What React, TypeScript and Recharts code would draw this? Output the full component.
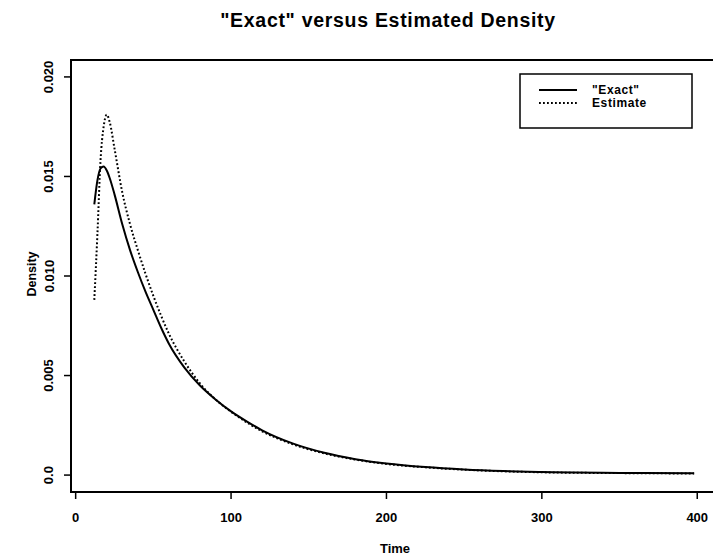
import { LineChart, Line, XAxis, YAxis, ReferenceArea } from 'recharts';

// Werte
const times = [12, 14, 16, 18, 20, 22, 25, 30, 35, 40, 45, 50, 55, 60, 70, 80, 90, 100, 110, 120, 140, 160, 180, 200, 225, 250, 275, 300, 350, 398];
const exactDensity = [0.0136, 0.0148, 0.0154, 0.0155, 0.0153, 0.0149, 0.0141, 0.0126, 0.0113, 0.0102, 0.0092, 0.0083, 0.0074, 0.0066, 0.0054, 0.0045, 0.0038, 0.0032, 0.0027, 0.00225, 0.00158, 0.00112, 0.0008, 0.00058, 0.0004, 0.00028, 0.0002, 0.00015, 0.00011, 0.00009];
const estimateDensity = [0.0088, 0.0121, 0.0158, 0.0175, 0.0181, 0.0177, 0.0164, 0.0142, 0.0126, 0.0113, 0.0101, 0.009, 0.008, 0.0071, 0.0057, 0.0046, 0.0038, 0.00318, 0.00265, 0.0022, 0.00154, 0.00109, 0.00078, 0.00056, 0.00039, 0.00027, 0.00019, 0.00014, 0.0001, 0.00008];

const xTicks = [0, 100, 200, 300, 400];
const yTicks = [0, 0.005, 0.01, 0.015, 0.02];
const yTickLabels = ['0.0', '0.005', '0.010', '0.015', '0.020'];
const seriesNames = ['"Exact"', 'Estimate'];

const data = times.map((t, i) => ({ t, exact: exactDensity[i], estimate: estimateDensity[i] }));

const FONT = '"Liberation Sans", Arial, Helvetica, sans-serif';
const X_DOMAIN = [-3, 414];
const Y_DOMAIN = [-0.00085, 0.02085];

const YTick = ({ x, y, payload }: any) => {
  const i = yTicks.indexOf(payload.value);
  return (
    <text
      x={x - 13}
      y={y}
      transform={`rotate(-90, ${x - 13}, ${y})`}
      textAnchor="middle"
      dominantBaseline="central"
      fontFamily={FONT}
      fontWeight="bold"
      fontSize={13}
      fill="#000"
    >
      {i >= 0 ? yTickLabels[i] : payload.value}
    </text>
  );
};

export default function App() {
  return (
    <div style={{ position: 'absolute', left: 0, top: 0, width: 713, height: 559, overflow: 'hidden', background: '#fff' }}>
      <LineChart width={719} height={559} data={data} margin={{ top: 60, right: 0, bottom: 0, left: 0 }}>
        <XAxis
          type="number"
          dataKey="t"
          domain={X_DOMAIN}
          ticks={xTicks}
          height={67}
          tickSize={7}
          tickMargin={14}
          axisLine={false}
          tickLine={{ stroke: '#000', strokeWidth: 1.5 }}
          tick={{ fill: '#000', fontSize: 13, fontWeight: 'bold', fontFamily: FONT }}
          allowDataOverflow
        />
        <YAxis
          type="number"
          domain={Y_DOMAIN}
          ticks={yTicks}
          width={71}
          tickSize={7}
          axisLine={false}
          tickLine={{ stroke: '#000', strokeWidth: 1.5 }}
          tick={<YTick />}
          allowDataOverflow
        />
        <ReferenceArea
          x1={X_DOMAIN[0]}
          x2={X_DOMAIN[1]}
          y1={Y_DOMAIN[0]}
          y2={Y_DOMAIN[1]}
          fill="none"
          stroke="#000"
          strokeWidth={2}
          fillOpacity={0}
        />
        <Line type="monotone" dataKey="exact" name={seriesNames[0]} stroke="#000" strokeWidth={2} dot={false} isAnimationActive={false} />
        <Line type="monotone" dataKey="estimate" name={seriesNames[1]} stroke="#000" strokeWidth={2} strokeDasharray="1.8 2.2" dot={false} isAnimationActive={false} />
      </LineChart>

      {/* Titel, Achsentitel und Legende */}
      <svg width={713} height={559} style={{ position: 'absolute', left: 0, top: 0, pointerEvents: 'none' }}>
        <text x={388} y={27} textAnchor="middle" fontFamily={FONT} fontWeight="bold" fontSize={19.5} letterSpacing={0.7} fill="#000">
          "Exact" versus Estimated Density
        </text>
        <text x={395} y={553} textAnchor="middle" fontFamily={FONT} fontWeight="bold" fontSize={13} fill="#000">
          Time
        </text>
        <text x={32} y={274} transform="rotate(-90, 32, 274)" textAnchor="middle" dominantBaseline="central" fontFamily={FONT} fontWeight="bold" fontSize={12.5} fill="#000">
          Density
        </text>
        <rect x={520} y={74} width={172} height={54} fill="#fff" stroke="#000" strokeWidth={1.5} />
        {seriesNames.map((name, i) => (
          <g key={name}>
            <line x1={539} x2={577} y1={90 + i * 13} y2={90 + i * 13} stroke="#000" strokeWidth={2} strokeDasharray={i === 1 ? '1.8 2.2' : undefined} />
            <text x={592} y={90 + i * 13} dominantBaseline="central" fontFamily={FONT} fontWeight="bold" fontSize={12} letterSpacing={0.6} fill="#000">
              {name}
            </text>
          </g>
        ))}
      </svg>
    </div>
  );
}
